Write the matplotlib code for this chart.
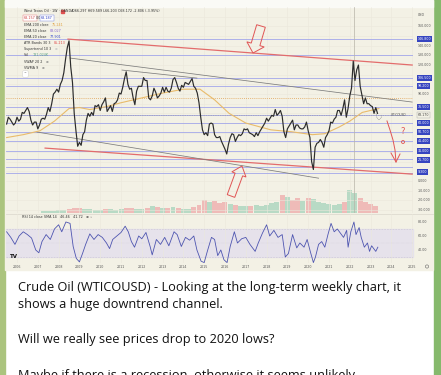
import numpy as np
import matplotlib
matplotlib.use("Agg")
import matplotlib.pyplot as plt
from matplotlib.patches import Rectangle, FancyArrow, Circle
from matplotlib.transforms import blended_transform_factory

W, H = 441, 375

# ---- data -------------------------------------------------------------
# monthly closes, Jul 2005 .. May 2023
price_start = 2005.5
prices = [
    59, 66, 64, 61, 58, 60,
    66, 62, 64, 71, 70, 73, 76, 72, 63, 58, 61, 61,
    54, 58, 64, 65, 64, 69, 76, 72, 80, 90, 92, 95,
    92, 100, 104, 112, 126, 138, 145, 118, 102, 70, 52, 36,
    40, 37, 48, 51, 63, 70, 67, 71, 68, 78, 77, 79,
    73, 79, 82, 86, 72, 75, 78, 72, 80, 81, 84, 91,
    90, 97, 106, 113, 100, 95, 96, 86, 79, 93, 98, 98,
    98, 107, 104, 104, 86, 84, 88, 96, 92, 86, 88, 91,
    97, 92, 97, 93, 92, 96, 105, 107, 102, 96, 93, 99,
    97, 102, 101, 100, 103, 106, 98, 96, 91, 81, 66, 53,
    48, 50, 47, 59, 60, 59, 48, 45, 45, 46, 41, 37,
    33, 28, 38, 45, 49, 48, 41, 45, 48, 47, 49, 54,
    53, 54, 50, 49, 48, 46, 50, 47, 51, 54, 57, 60,
    65, 62, 65, 68, 67, 74, 68, 70, 73, 67, 51, 45,
    54, 57, 60, 63, 53, 58, 58, 55, 54, 54, 56, 61,
    52, 45, 20, 12, 35, 39, 40, 43, 40, 35, 45, 48,
    52, 61, 60, 64, 66, 73, 73, 68, 75, 84, 66, 75,
    88, 96, 124, 104, 115, 120, 98, 89, 80, 86, 80, 80,
    78, 77, 70, 76, 70,
]

ema200_years = [2005.5, 2006.3, 2007.1, 2007.8, 2008.5, 2009.0, 2009.5, 2010.3,
                2011.0, 2012.0, 2013.0, 2014.0, 2014.8, 2015.5, 2016.2, 2017.0,
                2018.2, 2019.2, 2020.2, 2020.8, 2021.5, 2022.0, 2022.6, 2023.4]
ema200_vals = [45, 48, 52, 62, 75, 76, 74, 77, 81, 86, 91, 95, 95, 84, 70, 60,
               53, 51, 48, 49, 56, 62, 71, 75]

# quarterly volume (k), from 2007.25
vol_start = 2007.25
volume = [15, 20, 20, 25, 30, 40, 50, 45, 40, 35, 30, 30, 40, 35, 30, 35,
          45, 50, 40, 35, 50, 70, 60, 45, 50, 55, 45, 40, 40, 55, 80, 130,
          110, 120, 100, 110, 90, 80, 70, 65, 70, 75, 65, 80, 100, 110, 180, 160,
          130, 150, 120, 150, 140, 110, 100, 90, 80, 90, 110, 230, 200, 150, 110, 90, 70]

rsi_years = [2005.5, 2005.7, 2005.9, 2006.1, 2006.3, 2006.5, 2006.7, 2006.9, 2007.05, 2007.2,
             2007.4, 2007.6, 2007.8, 2008.0, 2008.15, 2008.35, 2008.55, 2008.7, 2008.85, 2009.0,
             2009.15, 2009.3, 2009.5, 2009.7, 2009.9, 2010.1, 2010.3, 2010.45, 2010.6, 2010.8,
             2011.0, 2011.2, 2011.35, 2011.5, 2011.65, 2011.85, 2012.0, 2012.2, 2012.4, 2012.5,
             2012.7, 2012.9, 2013.1, 2013.3, 2013.55, 2013.7, 2013.9, 2014.1, 2014.3, 2014.5,
             2014.65, 2014.85, 2015.0, 2015.15, 2015.35, 2015.5, 2015.65, 2015.8, 2015.95, 2016.1,
             2016.25, 2016.45, 2016.6, 2016.8, 2017.0, 2017.2, 2017.45, 2017.6, 2017.8, 2018.0,
             2018.15, 2018.35, 2018.55, 2018.75, 2018.9, 2019.05, 2019.25, 2019.45, 2019.6, 2019.8,
             2019.95, 2020.1, 2020.25, 2020.35, 2020.5, 2020.65, 2020.8, 2020.95, 2021.1, 2021.25,
             2021.4, 2021.55, 2021.7, 2021.85, 2021.92, 2022.05, 2022.2, 2022.3, 2022.45, 2022.55,
             2022.7, 2022.85, 2022.95, 2023.05, 2023.15, 2023.25, 2023.35]
rsi_vals = [66, 58, 48, 60, 66, 62, 57, 40, 36, 52,
            62, 55, 70, 76, 66, 80, 78, 45, 28, 23,
            35, 48, 63, 55, 62, 58, 50, 42, 55, 60,
            65, 74, 66, 52, 44, 60, 56, 65, 45, 33,
            55, 48, 58, 46, 66, 62, 45, 58, 54, 60,
            40, 24, 22, 38, 58, 55, 32, 40, 26, 22,
            45, 66, 50, 56, 58, 48, 38, 50, 64, 76,
            60, 68, 58, 62, 30, 35, 62, 43, 50, 44,
            55, 38, 22, 30, 48, 52, 44, 62, 78, 66,
            70, 64, 58, 68, 44, 66, 80, 62, 72, 58,
            44, 50, 38, 46, 42, 38, 44]

# horizontal levels drawn on the chart, and the ones with a price tag
levels = [146.8, 130.3, 106.5, 98.2, 76.5, 68.3, 60.0, 50.7, 41.4, 31.0, 22.8, 14.5, 8.3]
tagged = [146.8, 106.5, 98.2, 76.5, 60.0, 50.7, 41.4, 31.0, 21.7, 9.3]
dotted_level = 85.8
last_price = 68.17

# user trend lines (year, price)
red_channel = [[(2008.45, 146.8), (2025.0, 120.0)], [(2007.35, 34.1), (2025.0, 7.2)]]
gray_lines = [[(2008.55, 127.2), (2025.0, 81.7)], [(2006.96, 50.7), (2020.5, 3.0)],
              [(2011.05, 114.8), (2014.65, 106.5)]]

year_ticks = list(range(2006, 2026))

# ---- figure -----------------------------------------------------------
fig = plt.figure(figsize=(W / 100, H / 100), dpi=100)

def px_rect(x0, y0, x1, y1):
    return [x0 / W, 1 - y1 / H, (x1 - x0) / W, (y1 - y0) / H]

bg = fig.add_axes([0, 0, 1, 1], zorder=0)
bg.set_xlim(0, W); bg.set_ylim(H, 0); bg.axis("off")
bg.add_patch(Rectangle((0, 0), W, H, color="white"))
bg.add_patch(Rectangle((0, 0), 5, H, color="#abc47e"))
bg.add_patch(Rectangle((434, 0), 7, H, color="#86b96c"))
bg.add_patch(Rectangle((5, 0), 428, 270, color="#f3f1e5"))
bg.add_patch(Rectangle((5, 0), 428, 7, color="#fafaf6"))
bg.add_patch(Rectangle((6, 228.8), 407, 28.2, color="#e6e2eb"))
bg.plot([6, 433], [213.5, 213.5], color="#dedbd0", lw=0.6)

XLIM = (2005.47, 2025.04)

# volume overlay
axv = fig.add_axes(px_rect(6, 7, 413, 213), zorder=1)
axv.set_xlim(*XLIM); axv.set_ylim(0, 2060); axv.axis("off")
vol_years = vol_start + np.arange(len(volume)) * 0.25
month_years = price_start + np.arange(len(prices)) / 12
p0 = np.interp(vol_years - 0.125, month_years, prices)
p1 = np.interp(vol_years + 0.125, month_years, prices)
vcols = np.where(p1 >= p0, "#b2d8c2", "#efb6b3")
axv.bar(vol_years, volume, width=0.24, color=vcols, alpha=0.9, linewidth=0)

# price pane
ax = fig.add_axes(px_rect(6, 7, 413, 213), zorder=2)
ax.patch.set_alpha(0)
ax.set_xlim(*XLIM); ax.set_ylim(-33, 180)
for s in ax.spines.values():
    s.set_visible(False)
ax.set_xticks([]); ax.set_yticks([])
for y in year_ticks:
    ax.axvline(y, color="#ebe8dc", lw=0.4, zorder=0)
for v in range(-30, 180, 10):
    ax.axhline(v, color="#ebe8dc", lw=0.4, zorder=0)

for lv in levels:
    ax.axhline(lv, color="#a2a6ea", lw=0.6, zorder=1)
ax.axhline(dotted_level, color="#e0a050", lw=0.6, ls=(0, (1, 1.5)), zorder=1)
ax.axhline(last_price, color="#9a9a9a", lw=0.5, ls=(0, (1, 1.5)), zorder=1)
ax.axvline(2022.2, color="#b8b4a8", lw=0.5, zorder=1)

for a, b in red_channel:
    ax.plot([a[0], b[0]], [a[1], b[1]], color="#e36c6c", lw=0.9, zorder=2)
for a, b in gray_lines:
    ax.plot([a[0], b[0]], [a[1], b[1]], color="#7c7c7c", lw=0.55, zorder=2)

ax.plot(ema200_years, ema200_vals, color="#e9bb6a", lw=0.8, zorder=3)
ax.plot(month_years, prices, color="#2c2c2c", lw=0.85, zorder=4)

# price scale
tr = blended_transform_factory(ax.transAxes, ax.transData)
blocked = tagged + [last_price, 172]
for v in range(-30, 170, 10):
    if min(abs(v - b) for b in blocked) < 5:
        continue
    ax.text(1.012, v, f"{v:.3f}", transform=tr, fontsize=2.3, color="#555555",
            va="center", ha="left", clip_on=False)
for lv in tagged:
    ax.text(1.012, lv, f"{lv:.3f}", transform=tr, fontsize=2.3, color="white",
            va="center", ha="left", clip_on=False,
            bbox=dict(boxstyle="square,pad=0.25", fc="#3645c0", ec="none"))
ax.text(1.012, last_price, f"{last_price:.3f}", transform=tr, fontsize=2.3,
        color="#444444", va="center", ha="left", clip_on=False,
        bbox=dict(boxstyle="square,pad=0.25", fc="#f3f1e5", ec="#aaaaaa", lw=0.3))
ax.text(0.985, last_price, "WTICOUSD", transform=tr, fontsize=2.1, color="#555555",
        va="center", ha="right")
ax.text(1.012, 172, "USD", transform=tr, fontsize=2.3, color="#555555",
        va="center", ha="left", clip_on=False)

# RSI pane
rsi = fig.add_axes(px_rect(6, 214, 413, 263), zorder=2)
rsi.patch.set_alpha(0)
rsi.set_xlim(*XLIM); rsi.set_ylim(21.4, 91.4)
for s in rsi.spines.values():
    s.set_visible(False)
for y in year_ticks:
    rsi.axvline(y, color="#ebe8dc", lw=0.4, zorder=0)
for v in (70, 30):
    rsi.axhline(v, color="#c8c2d4", lw=0.4, ls=(0, (3, 2)))
rsi.axhline(50, color="#c8c2d4", lw=0.3, ls=(0, (1, 2)))
rsi.plot(rsi_years, rsi_vals, color="#4e55b0", lw=0.6)
rsi.set_yticks([])
rsi.set_xticks(year_ticks)
rsi.set_xticklabels([str(y) for y in year_ticks], fontsize=2.3, color="#555555")
rsi.tick_params(axis="x", length=0, pad=1.6)
trr = blended_transform_factory(rsi.transAxes, rsi.transData)
for v in (80, 60, 40):
    rsi.text(1.012, v, f"{v:.2f}", transform=trr, fontsize=2.3, color="#555555",
             va="center", ha="left", clip_on=False)

# ---- overlay: legend text, annotations, post text ----------------------
ov = fig.add_axes([0, 0, 1, 1], zorder=5)
ov.set_xlim(0, W); ov.set_ylim(H, 0); ov.axis("off")
ov.patch.set_alpha(0)

small = dict(fontsize=2.4, va="center", ha="left", color="#333333")
ov.text(24, 11, "West Texas Oil · 1W · OANDA", **small)
ov.add_patch(Rectangle((61, 9.5), 3, 3, color="#e05050"))
ov.text(72, 11, "O66.297 H69.589 L66.203 C68.172 -2.806 (-3.95%)", **small)
ov.text(24, 18, "68.157", fontsize=2.4, va="center", ha="left", color="#d04040",
        bbox=dict(boxstyle="square,pad=0.4", fc="white", ec="#e07070", lw=0.3))
ov.text(35.5, 18, "0.0", **small)
ov.text(41, 18, "68.187", fontsize=2.4, va="center", ha="left", color="#3040c0",
        bbox=dict(boxstyle="square,pad=0.4", fc="white", ec="#7080e0", lw=0.3))
rows = [
    ("EMA 200 close", "75.241", "#e0a040"),
    ("EMA 50 close", "83.027", "#8a6ad0"),
    ("EMA 20 close", "77.901", "#3f51d0"),
    ("ATR Bands 30 3", "85.213", "#e04848"),
    ("Supertrend 10 3", "\u2298", "#bbbbbb"),
    ("Vol", "131.024K", "#5aa080"),
    ("VWAP 20 2", "\u2298", "#777777"),
    ("VWMA 9", "\u2298", "#777777"),
]
for i, (name, val, col) in enumerate(rows):
    y = 25 + i * 6.1
    t = ov.text(24, y, name, **small)
    ov.annotate(val, xy=(1, 0.5), xycoords=t, xytext=(2.5, 0), textcoords="offset points",
                fontsize=2.4, va="center", ha="left", color=col)
ov.text(24, 74, "^", fontsize=2.4, va="center", ha="left", color="#555555",
        bbox=dict(boxstyle="round,pad=0.4", fc="white", ec="#cccccc", lw=0.3))

ov.text(22, 217.5, "RSI 14 close SMA 14   46.46   41.72   \u2298 ◦", **small)
ov.text(10, 256, "TV", fontsize=4, fontweight="bold", va="center", ha="left", color="#111111")
ov.add_patch(Circle((427, 266.5), 1.6, fill=False, ec="#666666", lw=0.4))

# hand-drawn red marks
red = "#e05555"
ov.add_patch(FancyArrow(261, 26, -8, 27, width=9, head_width=18, head_length=9,
                        length_includes_head=True, fill=False, ec=red, lw=0.7))
ov.add_patch(FancyArrow(231, 196, 11, -30, width=8, head_width=15, head_length=9,
                        length_includes_head=True, fill=False, ec=red, lw=0.7))
ov.plot([387, 390, 393, 395, 396], [121, 130, 140, 150, 162], color=red, lw=0.7)
ov.plot([391, 396, 400], [153, 162, 154], color=red, lw=0.7)
ov.text(403, 132, "?", fontsize=6, color=red, ha="center", va="center")
ov.add_patch(Circle((403, 142), 1.5, fill=False, ec=red, lw=0.6))
ov.plot([376, 377, 379, 381, 382], [113, 118, 120, 118, 115], color="#888888",
        lw=0.5, ls=(0, (1, 1)))

# post text
post = [
    ("Crude Oil (WTICOUSD) - Looking at the long-term weekly chart, it", 290.5),
    ("shows a huge downtrend channel.", 308),
    ("Will we really see prices drop to 2020 lows?", 343.5),
    ("Maybe if there is a recession, otherwise it seems unlikely.", 378.5),
]
for line, yb in post:
    ov.text(18, yb, line, fontsize=9.2, family="Open Sans", color="#111111",
            va="baseline", ha="left")

fig.savefig("out.png", dpi=100)
